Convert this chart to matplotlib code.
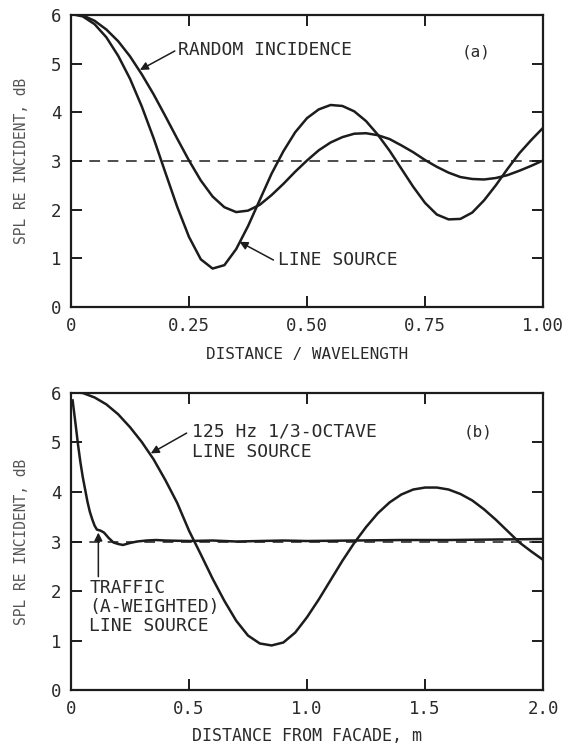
import matplotlib
matplotlib.use("Agg")
import matplotlib.pyplot as plt
import numpy as np

# ---- panel (a): level re incident vs distance / wavelength ----
dist_a = np.linspace(0.0, 1.0, 41)
random_inc = [6.02, 5.99, 5.88, 5.70, 5.46, 5.15, 4.78, 4.37, 3.92, 3.46,
              3.01, 2.60, 2.27, 2.05, 1.95, 1.98, 2.10, 2.30, 2.53, 2.78,
              3.01, 3.22, 3.38, 3.49, 3.56, 3.57, 3.53, 3.45, 3.32, 3.18,
              3.02, 2.88, 2.76, 2.67, 2.63, 2.62, 2.65, 2.71, 2.80, 2.90, 3.01]
line_src_a = [6.02, 5.97, 5.81, 5.54, 5.16, 4.69, 4.12, 3.47, 2.76, 2.06,
              1.44, 0.98, 0.79, 0.86, 1.19, 1.66, 2.20, 2.74, 3.20, 3.59,
              3.88, 4.06, 4.15, 4.13, 4.02, 3.82, 3.54, 3.21, 2.84, 2.47,
              2.14, 1.90, 1.80, 1.81, 1.94, 2.19, 2.50, 2.84, 3.16, 3.43, 3.68]

# ---- panel (b): level re incident vs distance from facade ----
dist_b = np.linspace(0.0, 2.0, 41)
oct125 = [6.02, 6.00, 5.91, 5.77, 5.57, 5.31, 5.01, 4.66, 4.24, 3.78,
          3.22, 2.74, 2.25, 1.80, 1.40, 1.10, 0.94, 0.90, 0.96, 1.16,
          1.47, 1.83, 2.22, 2.61, 2.97, 3.29, 3.57, 3.79, 3.95, 4.05,
          4.09, 4.09, 4.05, 3.96, 3.83, 3.65, 3.44, 3.21, 2.98, 2.80, 2.63]
traffic_x = [0.007, 0.02, 0.03, 0.04, 0.05, 0.06, 0.07, 0.08, 0.09, 0.10,
             0.11, 0.125, 0.14, 0.16, 0.18, 0.20, 0.22, 0.25, 0.28, 0.32,
             0.36, 0.40, 0.50, 0.60, 0.70, 0.80, 0.90, 1.00, 1.20, 1.40,
             1.60, 1.80, 2.00]
traffic_y = [5.85, 5.35, 4.95, 4.60, 4.30, 4.05, 3.80, 3.60, 3.45, 3.32,
             3.24, 3.22, 3.18, 3.07, 2.98, 2.95, 2.93, 2.97, 3.00, 3.02,
             3.03, 3.02, 3.01, 3.02, 3.00, 3.01, 3.02, 3.01, 3.02, 3.03,
             3.03, 3.04, 3.05]

INK = "#1c1c1c"
TXT = "#2a2a2a"
plt.rcParams["font.family"] = ["DejaVu Sans Mono", "DejaVu Sans"]

fig = plt.figure(figsize=(5.66, 7.47), dpi=100)
ax_a = fig.add_axes([0.1254, 0.589, 0.834, 0.391])
ax_b = fig.add_axes([0.1254, 0.0763, 0.834, 0.3976])


def style_axes(ax, xmax, xticks, xlabels):
    ax.set_xlim(0, xmax)
    ax.set_ylim(0, 6)
    ax.set_xticks(xticks)
    ax.set_xticklabels(xlabels)
    ax.set_yticks(range(7))
    for sp in ax.spines.values():
        sp.set_linewidth(1.6)
        sp.set_color(INK)
    ax.tick_params(direction="in", length=8, width=1.4, colors=INK,
                   top=True, right=True, labelsize=12.5, labelcolor=TXT)
    ax.tick_params(axis="x", pad=7)
    ax.tick_params(axis="y", pad=7)
    ax.set_ylabel("SPL RE INCIDENT, dB", fontsize=10.5, color="#555555",
                  labelpad=16)


# panel (a)
ax_a.axhline(3, color=INK, lw=1.1, ls=(0, (7, 5)))
ax_a.plot(dist_a, random_inc, color=INK, lw=1.8)
ax_a.plot(dist_a, line_src_a, color=INK, lw=1.8)
style_axes(ax_a, 1.0, [0, 0.25, 0.5, 0.75, 1.0],
           ["0", "0.25", "0.50", "0.75", "1.00"])
ax_a.set_xlabel("DISTANCE / WAVELENGTH", fontsize=11.5, color=TXT, labelpad=9)

arrow = dict(arrowstyle="-|>", color=INK, lw=1.1, mutation_scale=12,
             shrinkA=0, shrinkB=0)
ax_a.annotate("", xy=(0.146, 4.87), xytext=(0.220, 5.26), arrowprops=arrow)
ax_a.text(0.227, 5.27, "RANDOM INCIDENCE", fontsize=13, color=TXT,
          va="center", ha="left")
ax_a.annotate("", xy=(0.357, 1.34), xytext=(0.429, 0.965), arrowprops=arrow)
ax_a.text(0.439, 0.965, "LINE SOURCE", fontsize=13, color=TXT,
          va="center", ha="left")
ax_a.text(0.858, 5.24, "(a)", fontsize=11.5, color=TXT, va="center",
          ha="center")

# panel (b)
ax_b.axhline(3, color=INK, lw=1.1, ls=(0, (7, 5)))
ax_b.plot(dist_b, oct125, color=INK, lw=1.8)
ax_b.plot(traffic_x, traffic_y, color=INK, lw=1.8)
style_axes(ax_b, 2.0, [0, 0.5, 1.0, 1.5, 2.0],
           ["0", "0.5", "1.0", "1.5", "2.0"])
ax_b.set_xlabel("DISTANCE FROM FACADE, m", fontsize=12, color=TXT,
                labelpad=7)

ax_b.annotate("", xy=(0.338, 4.78), xytext=(0.49, 5.19), arrowprops=arrow)
ax_b.text(0.511, 5.22, "125 Hz 1/3-OCTAVE", fontsize=13, color=TXT,
          va="center", ha="left")
ax_b.text(0.511, 4.81, "LINE SOURCE", fontsize=13, color=TXT,
          va="center", ha="left")
ax_b.text(1.725, 5.22, "(b)", fontsize=11.5, color=TXT, va="center",
          ha="center")
ax_b.annotate("", xy=(0.116, 3.18), xytext=(0.116, 2.29), arrowprops=arrow)
for txt, yy in [("TRAFFIC", 2.06), ("(A-WEIGHTED)", 1.68),
                ("LINE SOURCE", 1.29)]:
    ax_b.text(0.078, yy, txt, fontsize=13, color=TXT, va="center",
              ha="left")

fig.savefig("out.png", dpi=100)
